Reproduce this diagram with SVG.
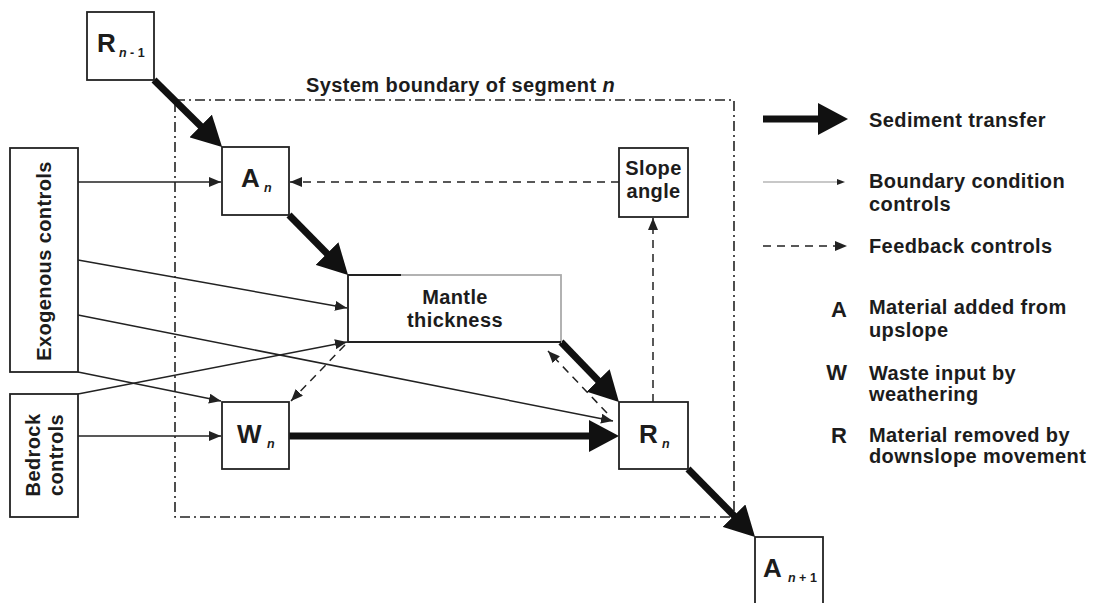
<svg xmlns="http://www.w3.org/2000/svg" width="1098" height="603" viewBox="0 0 1098 603">
<style>
text{font-family:"Liberation Sans",Arial,sans-serif;font-weight:bold;fill:#1c1c1c}
.lbl{font-size:20px;letter-spacing:0.4px}
.key{font-size:22px}
.big{font-size:26px}
.sub{font-size:12.5px}
.it{font-style:italic}
.box{fill:#fff;stroke:#222;stroke-width:1.8}
.sed{fill:none;stroke:#111;stroke-width:7;marker-end:url(#sedHead)}
.thin{fill:none;stroke:#222;stroke-width:1.5;marker-end:url(#thinHead)}
.fb{fill:none;stroke:#222;stroke-width:1.5;stroke-dasharray:8 6;marker-end:url(#thinHead)}
.bnd{fill:none;stroke:#222;stroke-width:1.6;stroke-dasharray:10 4 2 4}
</style>
<defs>
<marker id="sedHead" viewBox="0 0 30 32" markerWidth="30" markerHeight="32" markerUnits="userSpaceOnUse" refX="2" refY="16" orient="auto">
<path d="M0,0 L30,16 L0,32 z" fill="#111"/>
</marker>
<marker id="thinHead" viewBox="0 0 12 10" markerWidth="12" markerHeight="10" markerUnits="userSpaceOnUse" refX="12" refY="5" orient="auto">
<path d="M0,0 L12,5 L0,10 z" fill="#222"/>
</marker>
</defs>
<rect width="1098" height="603" fill="#fff"/>

<g id="system-boundary">
<rect class="bnd" x="175" y="100" width="559" height="417"/>
<text class="lbl" x="306" y="92">System boundary of segment <tspan class="it">n</tspan></text>
</g>

<g id="connectors">
<path class="sed" d="M154,80 L202.1,127.4"/>
<path class="sed" d="M289,215 L328.4,255"/>
<path class="sed" d="M561,342 L599.5,381.9"/>
<path class="sed" d="M289,436 L591,436"/>
<path class="sed" d="M688,469 L735.4,517.1"/>
<path class="thin" d="M78,182 L221,182"/>
<path class="thin" d="M78,260 L347,308"/>
<path class="thin" d="M78,315 L613,421"/>
<path class="thin" d="M78,372 L221,401"/>
<path class="thin" d="M78,394 L347,342"/>
<path class="thin" d="M78,436 L221,436"/>
<path class="fb" d="M619,182 L290,182"/>
<path class="fb" d="M653,402 L653,218"/>
<path class="fb" d="M345,345 L291,401"/>
<path class="fb" d="M607,413 L548,351"/>
</g>

<g id="node-R-n-1">
<rect class="box" x="87" y="12" width="67" height="68"/>
<text class="big" x="97" y="52">R</text>
<text class="sub" x="119" y="57"><tspan class="it">n</tspan> - 1</text>
</g>

<g id="node-A-n">
<rect class="box" x="222" y="147" width="67" height="68"/>
<text class="big" x="241" y="187">A</text>
<text class="sub it" x="264" y="192">n</text>
</g>

<g id="node-slope-angle">
<rect class="box" x="619" y="148" width="69" height="69"/>
<text class="lbl" x="653.5" y="175" text-anchor="middle">Slope</text>
<text class="lbl" x="653.5" y="198" text-anchor="middle">angle</text>
</g>

<g id="node-exogenous">
<rect class="box" x="10" y="148" width="68" height="224"/>
<text class="lbl" transform="translate(51,261) rotate(-90)" text-anchor="middle">Exogenous controls</text>
</g>

<g id="node-bedrock">
<rect class="box" x="10" y="394" width="68" height="123"/>
<text class="lbl" transform="translate(40,455) rotate(-90)" text-anchor="middle">Bedrock</text>
<text class="lbl" transform="translate(63,455) rotate(-90)" text-anchor="middle">controls</text>
</g>

<g id="node-mantle">
<rect x="348" y="275" width="213" height="67" fill="#fff" stroke="#aaa" stroke-width="1.8"/>
<path d="M401,275 L348,275 L348,342 L561,342" fill="none" stroke="#222" stroke-width="1.8"/>
<text class="lbl" x="455" y="304" text-anchor="middle">Mantle</text>
<text class="lbl" x="455" y="327" text-anchor="middle">thickness</text>
</g>

<g id="node-W-n">
<rect class="box" x="222" y="402" width="67" height="67"/>
<text class="big" x="237" y="443">W</text>
<text class="sub it" x="267" y="448">n</text>
</g>

<g id="node-R-n">
<rect class="box" x="619" y="402" width="69" height="67"/>
<text class="big" x="639" y="443">R</text>
<text class="sub it" x="662" y="448">n</text>
</g>

<g id="node-A-n1">
<rect class="box" x="755" y="537" width="68" height="70"/>
<text class="big" x="763" y="577">A</text>
<text class="sub" x="788" y="582"><tspan class="it">n</tspan> + 1</text>
</g>

<g id="legend">
<path class="sed" d="M763,119 L820,119"/>
<text class="lbl" x="869" y="127">Sediment transfer</text>
<path d="M763,182 L838,182" stroke="#c8c8c8" stroke-width="2" fill="none"/>
<path d="M837,179 L845,182 L837,185 z" fill="#222"/>
<text class="lbl" x="869" y="188">Boundary condition</text>
<text class="lbl" x="869" y="211">controls</text>
<path class="fb" d="M763,246 L847,246"/>
<text class="lbl" x="869" y="253">Feedback controls</text>
<text class="key" x="847" y="317" text-anchor="end">A</text>
<text class="lbl" x="869" y="314">Material added from</text>
<text class="lbl" x="869" y="337">upslope</text>
<text class="key" x="847" y="380" text-anchor="end">W</text>
<text class="lbl" x="869" y="380">Waste input by</text>
<text class="lbl" x="869" y="401">weathering</text>
<text class="key" x="847" y="443" text-anchor="end">R</text>
<text class="lbl" x="869" y="442">Material removed by</text>
<text class="lbl" x="869" y="463">downslope movement</text>
</g>
</svg>
